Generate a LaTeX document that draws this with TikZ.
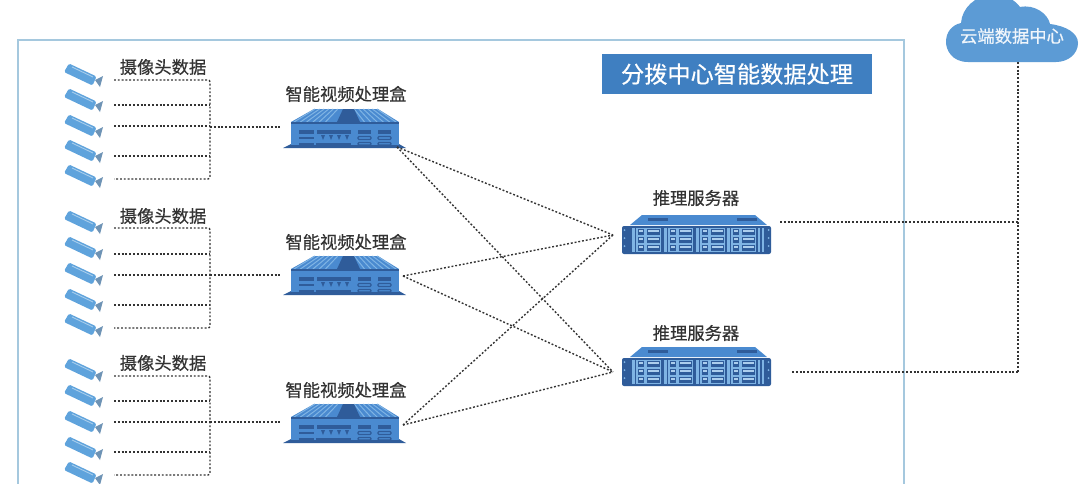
\documentclass[tikz,border=0pt]{standalone}
\usepackage{fontspec}
\setmainfont{Noto Sans CJK SC}
\newfontfamily\lblfont[FakeBold=0.5]{Noto Sans CJK SC}
\definecolor{cambody}{HTML}{5FA3DC}
\definecolor{camdark}{HTML}{6E93B5}
\definecolor{framec}{HTML}{A5C8DE}
\definecolor{titlec}{HTML}{3F7FC1}
\definecolor{cloudc}{HTML}{5C9BD5}
\definecolor{devdark}{HTML}{2F5C9A}
\definecolor{devmid}{HTML}{4A8AD0}
\definecolor{devlight}{HTML}{7FB4E4}
\definecolor{txt}{HTML}{333333}
\tikzset{
  lbl/.style={font=\lblfont\fontsize{17.3pt}{19pt}\selectfont,text=txt,inner sep=0pt},
  dots/.style={draw=black!80,line width=1.4pt,dash pattern=on 1.9pt off 1.9pt},
  cam/.pic={
    \fill[cambody,rounded corners=1.5pt] (-19,-2) -- (-14,-10.5) -- (13.5,2.5) -- (9.5,11.5) -- cycle;
    \draw[cambody!55!white,line width=.9pt] (-11,-7) -- (10,3);
    \fill[camdark] (12,6) -- (20,2) -- (17,13) -- cycle;
  },
  boxdev/.pic={
    \fill[devdark] (-61,18) -- (-53,14) -- (55,14) -- (62,18) -- cycle;
    \fill[devmid] (-53,-8) -- (-30,-21) -- (34,-21) -- (55,-8) -- cycle;
    \foreach \t in {0,0.07,...,0.36}{
      \draw[devlight,line width=1pt] ({-29+\t*65},-21) -- ({-50+\t*90},-8);
      \draw[devlight,line width=1pt] ({33-\t*65},-21) -- ({52-\t*90},-8);
    }
    \fill[devdark] (-7,-8) -- (-1,-21) -- (10,-21) -- (16,-8) -- cycle;
    \fill[devmid] (-53,-8) rectangle (55,15);
    \fill[devdark] (-53,-8) rectangle (55,-6.5);
    \fill[devdark] (-45,0) rectangle (-30,3.5);
    \fill[devdark] (-45,6.5) rectangle (-30,8.5);
    \fill[devdark] (-45,12.5) rectangle (-30,15);
    \fill[devdark] (-27,0) rectangle (7,3.5);
    \fill[devdark] (-28,12.5) rectangle (7,16);
    \foreach \x in {-23,-15,-7,1}{\fill[devdark] (\x,5) -- (\x+4,5) -- (\x+2,10) -- cycle;}
    \fill[devdark] (14,0) rectangle (27,3.5);
    \fill[devdark] (34,0) rectangle (47,3.5);
    \foreach \x in {14,34}{
      \draw[devdark,line width=1.3pt,rounded corners=1pt] (\x,6.5) rectangle (\x+13,9.5);
      \draw[devdark,line width=1.3pt,rounded corners=1pt] (\x,12.5) rectangle (\x+13,15);
    }
  },
  srv/.pic={
    \fill[devmid] (-66,-11) -- (-54,-21) -- (59,-21) -- (71,-11) -- cycle;
    \fill[devdark] (-48,-18) rectangle (-28,-15.5);
    \fill[devdark] (41,-18) rectangle (61,-15.5);
    \fill[devdark,rounded corners=2pt] (-74,-10) rectangle (75,18);
    \foreach \y in {-5,3,11}{
      \fill[devlight] (-71.5,\y-1) circle (1);
      \fill[devlight] (72.5,\y-1) circle (1);
    }
    \foreach \x in {-64,-32,0,31}{
      \fill[devlight] (\x,-8) rectangle (\x+29,16);
      \fill[devdark] (\x+3,-8) rectangle (\x+4,16);
      \foreach \y in {-7,1,9}{
        \fill[devdark] (\x+6,\y) rectangle (\x+12,\y+5.5);
        \fill[white!35!devlight] (\x+7,\y+1) rectangle (\x+11,\y+2.5);
        \fill[devdark] (\x+15,\y) rectangle (\x+28,\y+5.5);
        \fill[white!35!devlight] (\x+16,\y+1) rectangle (\x+27,\y+2.5);
      }
    }
    \fill[devlight] (62,-8) rectangle (64,16);
    \fill[devlight] (66,-8) rectangle (68,16);
  }
}
\begin{document}
\begin{tikzpicture}[x=1pt,y=-1pt]
\useasboundingbox (0,0) rectangle (1080,483);
\begin{scope}
\clip (0,0) rectangle (1080,483);
\fill[white] (0,0) rectangle (1080,483);
\draw[framec,line width=1.3pt] (18,40) rectangle (904,500);

% cloud
\fill[cloudc] (968,62) .. controls (952,62) and (946,50) .. (946,42)
  .. controls (946,32) and (952,25) .. (961,23)
  .. controls (962,8) and (975,-4) .. (992,-6)
  .. controls (1005,-6) and (1015,0) .. (1020,7)
  .. controls (1035,4) and (1048,14) .. (1050,24)
  .. controls (1066,26) and (1078,33) .. (1078,43)
  .. controls (1078,54) and (1068,62) .. (1056,62) -- cycle;
\node[lbl,text=white!90!cloudc] (cloud) at (1012,36) {云端数据中心};
\coordinate (cloudport) at (1018,62);

% title
\node[fill=titlec,text=white,minimum width=270pt,minimum height=40pt,inner sep=0pt,font=\lblfont\fontsize{23.2pt}{25pt}\selectfont] (title) at (737,74) {分拨中心智能数据处理};

% labels
\node[lbl] (la) at (163,67) {摄像头数据};
\node[lbl] (lb) at (163,216) {摄像头数据};
\node[lbl] (lc) at (163,363) {摄像头数据};
\node[lbl] (ba) at (346,94) {智能视频处理盒};
\node[lbl] (bb) at (346,242) {智能视频处理盒};
\node[lbl] (bc) at (346,390) {智能视频处理盒};
\node[lbl] (sa) at (696,198) {推理服务器};
\node[lbl] (sb) at (696,333) {推理服务器};

% cameras
\foreach \n/\y in {a1/74,a2/99,a3/125,a4/150,a5/175,b1/221,b2/247,b3/273,b4/299,b5/324,c1/369,c2/395,c3/421,c4/447,c5/472}
  \pic at (83,\y) {cam};

% devices
\pic at (344,130) {boxdev};
\pic at (344,277) {boxdev};
\pic at (344,425) {boxdev};
\pic at (696,236) {srv};
\pic at (696,368) {srv};

% ports
\coordinate (boxaL) at (280,127);
\coordinate (boxbL) at (280,275);
\coordinate (boxcL) at (280,422);
\coordinate (boxaR) at (397,147);
\coordinate (boxbR) at (403,276);
\coordinate (boxcR) at (403,425);
\coordinate (srvaL) at (613,235);
\coordinate (srvbL) at (613,372);
\coordinate (srvaR) at (780,222);
\coordinate (srvbR) at (792,372);
\coordinate (busa) at (1018,222);
\coordinate (busb) at (1018,372);

% camera wiring
\foreach \t/\m/\u/\v/\w/\z in {80/127/105/126/156/179,228/275/254/275/305/328,376/422/401/422/452/475}{
  \draw[dots,rounded corners=2pt] (114,\t) -- (210,\t) -- (210,\z) -- (114,\z);
  \draw[dots] (114,\u) -- (210,\u);
  \draw[dots] (114,\v) -- (210,\v);
  \draw[dots] (114,\w) -- (210,\w);
}
\draw[dots] (210,127) -- (boxaL);
\draw[dots] (210,275) -- (boxbL);
\draw[dots] (210,422) -- (boxcL);

% mesh
\foreach \s in {boxaR,boxbR,boxcR}{
  \draw[dots] (\s) -- (srvaL);
  \draw[dots] (\s) -- (srvbL);
}
\draw[dots] (srvaR) -- (busa);
\draw[dots] (srvbR) -- (busb);
\draw[dots] (cloudport) -- (busb);
\end{scope}
\end{tikzpicture}
\end{document}
